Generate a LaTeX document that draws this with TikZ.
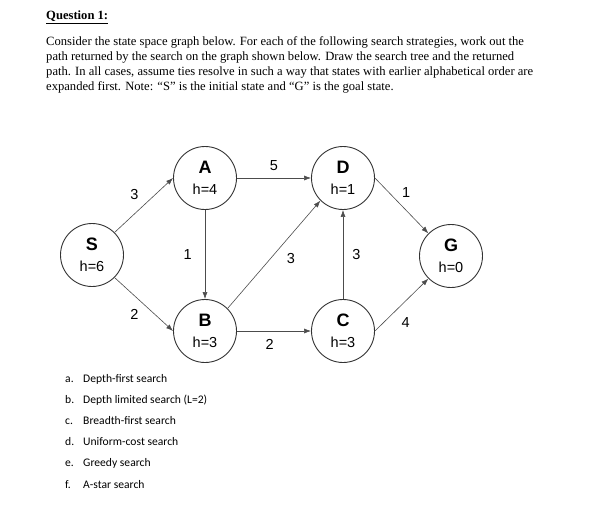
\documentclass[tikz,border=0pt]{standalone}
\usepackage{fontspec}
\setmainfont{Liberation Serif}
\newfontfamily\graphfont{Liberation Sans}
\newfontfamily\listfont{Carlito}
\usetikzlibrary{arrows.meta}
\tikzstyle{state}=[draw=black!80, circle, line width=0.9pt, minimum size=63pt, inner sep=0pt, align=center, font=\graphfont\fontsize{14.5}{20}\selectfont]
\tikzstyle{transition}=[draw=black!70, line width=0.6pt, -{Latex[length=7pt,width=5pt]}]
\tikzstyle{cost}=[font=\graphfont\fontsize{14.5}{16}\selectfont]
\newcommand{\statelabel}[2]{{\fontsize{18}{20}\selectfont\bfseries #1}\\[1pt]h=#2}

\begin{document}
\begin{tikzpicture}[x=1pt, y=-1pt]
      \useasboundingbox (0,0) rectangle (608,519);

      \node[anchor=base west, inner sep=0pt, font=\fontsize{12.6}{15.3}\selectfont\bfseries] (title) at (46,20) {\underline{Question 1:}};
      \node[anchor=north west, inner sep=0pt, align=left, font=\fontsize{12.6}{15.3}\selectfont] (intro) at (46,36)
        {Consider the state space graph below. For each of the following search strategies, work out the\\
         path returned by the search on the graph shown below. Draw the search tree and the returned\\
         path. In all cases, assume ties resolve in such a way that states with earlier alphabetical order are\\
         expanded first. Note: ``S'' is the initial state and ``G'' is the goal state.};

      \node[state] (S) at (92,255) {\statelabel{S}{6}};
      \node[state] (A) at (205,178) {\statelabel{A}{4}};
      \node[state] (B) at (205,331) {\statelabel{B}{3}};
      \node[state] (D) at (343,178) {\statelabel{D}{1}};
      \node[state] (C) at (343,331) {\statelabel{C}{3}};
      \node[state] (G) at (451,256) {\statelabel{G}{0}};

      \draw[transition] (S.45) to node[cost, auto, inner sep=5pt] {3} (A.west);
      \draw[transition] (S.-45) to node[cost, auto, swap, inner sep=5pt] {2} (B.west);
      \draw[transition] (A.south) to node[cost, auto, swap, inner sep=13pt] {1} (B.north);
      \draw[transition] (A.east) to node[cost, auto, inner sep=7pt] {5} (D.west);
      \draw[transition] (B.45) to node[cost, auto, swap, pos=0.57, inner sep=6pt] {3} (D.225);
      \draw[transition] (B.east) to node[cost, auto, swap, pos=0.44, inner sep=8pt] {2} (C.west);
      \draw[transition] (C.north) to node[cost, auto, swap, inner sep=9pt] {3} (D.south);
      \draw[transition] (D.east) to node[cost, auto, pos=0.43, inner sep=4pt] {1} (G.135);
      \draw[transition] (C.east) to node[cost, auto, swap, pos=0.38, inner sep=6pt] {4} (G.225);

      \node[anchor=north west, inner sep=0pt, font=\listfont\fontsize{11.6}{21.2}\selectfont] (strategies) at (65,367)
        {\begin{tabular}{@{}l@{\hspace{9pt}}l@{}}
          a. & Depth-first search\\
          b. & Depth limited search (L=2)\\
          c. & Breadth-first search\\
          d. & Uniform-cost search\\
          e. & Greedy search\\
          f. & A-star search
        \end{tabular}};
    \end{tikzpicture}
\end{document}
